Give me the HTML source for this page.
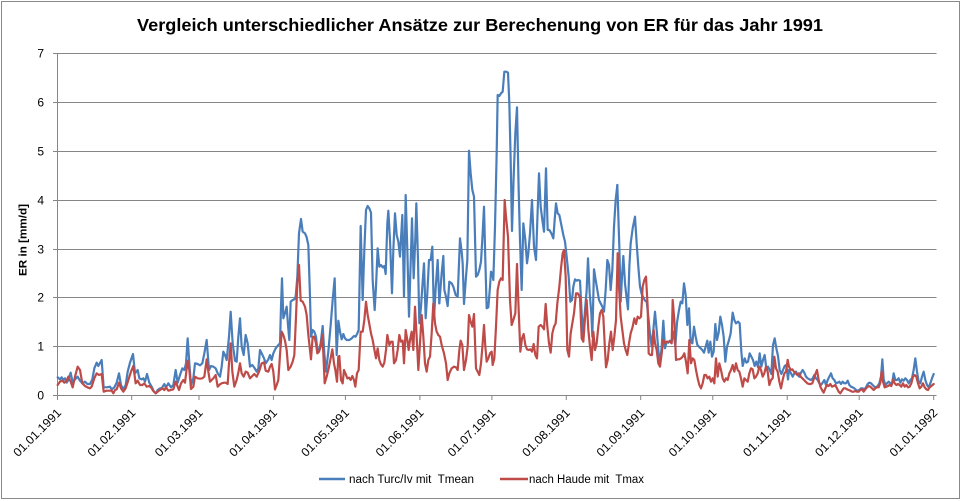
<!DOCTYPE html>
<html>
<head>
<meta charset="utf-8">
<style>
html,body{margin:0;padding:0;background:#fff;}
svg{display:block;}
text{font-family:"Liberation Sans",sans-serif;}
</style>
</head>
<body>
<svg width="963" height="501" viewBox="0 0 963 501" xmlns="http://www.w3.org/2000/svg">
<rect x="0" y="0" width="963" height="501" fill="#fff"/>
<rect x="1.5" y="1.5" width="958" height="497" fill="none" stroke="#898989" stroke-width="1"/>

<!-- Title -->
<text x="137" y="31" font-size="17.5" font-weight="bold" fill="#000" textLength="686" lengthAdjust="spacingAndGlyphs">Vergleich unterschiedlicher Ansätze zur Berechenung von ER für das Jahr 1991</text>

<!-- Gridlines -->
<g stroke="#868686" stroke-width="1">
<line x1="57.5" y1="53.5" x2="936.5" y2="53.5"/>
<line x1="57.5" y1="102.5" x2="936.5" y2="102.5"/>
<line x1="57.5" y1="151.5" x2="936.5" y2="151.5"/>
<line x1="57.5" y1="200.5" x2="936.5" y2="200.5"/>
<line x1="57.5" y1="249.5" x2="936.5" y2="249.5"/>
<line x1="57.5" y1="297.5" x2="936.5" y2="297.5"/>
<line x1="57.5" y1="346.5" x2="936.5" y2="346.5"/>
<line x1="57.5" y1="395.5" x2="936.5" y2="395.5"/>
<line x1="57.5" y1="53.5" x2="57.5" y2="395.5"/>
<!-- y ticks -->
<line x1="53" y1="53.5" x2="57.5" y2="53.5"/>
<line x1="53" y1="102.5" x2="57.5" y2="102.5"/>
<line x1="53" y1="151.5" x2="57.5" y2="151.5"/>
<line x1="53" y1="200.5" x2="57.5" y2="200.5"/>
<line x1="53" y1="249.5" x2="57.5" y2="249.5"/>
<line x1="53" y1="297.5" x2="57.5" y2="297.5"/>
<line x1="53" y1="346.5" x2="57.5" y2="346.5"/>
<line x1="53" y1="395.5" x2="57.5" y2="395.5"/>
<!-- x ticks -->
<line x1="57.5" y1="395.5" x2="57.5" y2="400"/>
<line x1="131.7" y1="395.5" x2="131.7" y2="400"/>
<line x1="199.0" y1="395.5" x2="199.0" y2="400"/>
<line x1="273.4" y1="395.5" x2="273.4" y2="400"/>
<line x1="345.4" y1="395.5" x2="345.4" y2="400"/>
<line x1="419.9" y1="395.5" x2="419.9" y2="400"/>
<line x1="491.9" y1="395.5" x2="491.9" y2="400"/>
<line x1="566.3" y1="395.5" x2="566.3" y2="400"/>
<line x1="640.7" y1="395.5" x2="640.7" y2="400"/>
<line x1="712.8" y1="395.5" x2="712.8" y2="400"/>
<line x1="787.2" y1="395.5" x2="787.2" y2="400"/>
<line x1="859.2" y1="395.5" x2="859.2" y2="400"/>
<line x1="933.7" y1="395.5" x2="933.7" y2="400"/>
</g>

<!-- Y labels -->
<g font-size="12" fill="#000" text-anchor="end">
<text x="44" y="57.5">7</text>
<text x="44" y="106.5">6</text>
<text x="44" y="155.5">5</text>
<text x="44" y="204.5">4</text>
<text x="44" y="253.5">3</text>
<text x="44" y="301.5">2</text>
<text x="44" y="350.5">1</text>
<text x="44" y="399.5">0</text>
</g>

<!-- Y title -->
<text transform="translate(26.5,240) rotate(-90)" font-size="11" font-weight="bold" text-anchor="middle" fill="#000" textLength="72" lengthAdjust="spacingAndGlyphs">ER in [mm/d]</text>

<!-- X labels -->
<g font-size="12" fill="#000" text-anchor="end">
<text transform="translate(62,413.5) rotate(-45)" textLength="62" lengthAdjust="spacingAndGlyphs">01.01.1991</text>
<text transform="translate(136.2,413.5) rotate(-45)" textLength="62" lengthAdjust="spacingAndGlyphs">01.02.1991</text>
<text transform="translate(203.5,413.5) rotate(-45)" textLength="62" lengthAdjust="spacingAndGlyphs">01.03.1991</text>
<text transform="translate(277.9,413.5) rotate(-45)" textLength="62" lengthAdjust="spacingAndGlyphs">01.04.1991</text>
<text transform="translate(349.9,413.5) rotate(-45)" textLength="62" lengthAdjust="spacingAndGlyphs">01.05.1991</text>
<text transform="translate(424.4,413.5) rotate(-45)" textLength="62" lengthAdjust="spacingAndGlyphs">01.06.1991</text>
<text transform="translate(496.4,413.5) rotate(-45)" textLength="62" lengthAdjust="spacingAndGlyphs">01.07.1991</text>
<text transform="translate(570.8,413.5) rotate(-45)" textLength="62" lengthAdjust="spacingAndGlyphs">01.08.1991</text>
<text transform="translate(645.2,413.5) rotate(-45)" textLength="62" lengthAdjust="spacingAndGlyphs">01.09.1991</text>
<text transform="translate(717.3,413.5) rotate(-45)" textLength="62" lengthAdjust="spacingAndGlyphs">01.10.1991</text>
<text transform="translate(791.7,413.5) rotate(-45)" textLength="62" lengthAdjust="spacingAndGlyphs">01.11.1991</text>
<text transform="translate(863.7,413.5) rotate(-45)" textLength="62" lengthAdjust="spacingAndGlyphs">01.12.1991</text>
<text transform="translate(938.2,413.5) rotate(-45)" textLength="62" lengthAdjust="spacingAndGlyphs">01.01.1992</text>
</g>

<!-- BLUE series -->
<g fill="none" stroke="#4A7EBB" stroke-width="6.6" stroke-linejoin="round" stroke-linecap="round">
<g transform="translate(55,190) scale(0.333333)">
<polyline points="8,562 15,568 20,562 25,570 30,565 35,578 40,570 47,548 53,578 60,568 68,560 75,572 82,580 90,575 97,582 105,582 112,568 118,535 125,518 130,528 140,510 146,592 155,592 165,590 170,598 178,592 185,578 192,550 198,585 205,598 212,585 218,545 225,518 234,492 240,550 248,540 253,565 260,568 265,565 270,575 276,552 283,578 290,590 297,605 303,610 308,600 315,595 320,595 328,582 333,592 340,580 348,592 355,585 362,540 368,578 375,555 382,535 388,540 393,520 398,445 403,520 408,585 415,565 420,520 428,522 435,526 442,520 448,490 455,450 462,540 468,528 475,530 482,535 488,550 495,560 500,530 505,485 510,495 515,510 522,440 527,365 533,460 540,512 545,515 550,440 555,385 560,470 566,495 572,435 578,460 585,530 592,525 598,533 605,545 610,535 615,480 620,490 627,505 632,520 640,508 645,495 650,510 655,490 662,475"/>
</g>
<g transform="translate(260,150) scale(0.333333)">
<polyline points="47,595 55,585 60,580 63,470 66,385 70,505 75,490 80,470 84,525 88,570 92,455 98,450 103,448 107,440 112,380 117,250 123,207 128,245 135,250 140,262 145,285 150,440 153,560 158,540 163,545 168,560 172,600 177,600 182,580 188,528 193,610 198,665 205,605 212,525 218,450 224,385 230,615 235,512 240,545 245,568 250,552 255,565 260,570 268,570 275,565 282,558 287,560 292,550 296,540 302,228 308,450 313,300 318,180 323,168 328,175 333,188 338,390 344,480 348,410 353,295 358,350 363,345 368,352 373,348 377,372 382,220 385,182 390,270 396,430 400,300 405,190 410,255 415,275 420,320 427,195 432,440 437,135 442,300 447,500 452,340 456,205 461,385 466,265 469,160 474,330 478,520 483,470 488,395 492,340 497,505 502,430 507,330 512,330 517,290 522,505 527,415 533,330 538,460"/>
</g>
<g transform="translate(440,60) scale(0.333333)">
<polyline points="-2,730 5,640 10,588 13,690 18,710 23,738 28,665 35,670 40,680 47,705 53,710 60,535 65,575 68,610 72,732 78,650 82,600 87,272 92,340 97,390 102,410 108,650 113,645 118,630 123,605 128,520 132,440 136,600 140,745 145,742 150,680 153,635 157,640 160,660 165,500 170,280 173,105 178,108 183,100 188,95 193,35 199,35 204,38 208,130 212,300 216,513 221,350 226,220 231,142 236,390 240,540 245,690 250,490 256,540 261,610 265,580 270,520 276,420 282,560 288,600 292,480 297,340 302,440 307,480 312,515 318,325 323,510 328,510 334,520 340,535 344,480 348,430 353,460 358,465 363,490 370,525 375,545 380,590 386,650 391,725 396,720 400,680 405,658 410,662 415,660 420,662 425,760 430,820 435,750 440,690 444,595 449,700 454,760 457,830 462,628 467,660 472,690 477,720 482,730 487,740 492,755 497,690 502,600 507,615 512,690 517,630 522,500 527,420 532,375"/>
</g>
<g transform="translate(610,170) scale(0.333333)">
<polyline points="22,45 28,230 32,395 36,320 40,258 45,340 50,385 54,418 58,290 62,220 68,175 75,140 80,220 85,290 90,350 95,372 100,382 105,392 110,395 115,440 120,490 125,530 130,480 135,425 140,480 145,540 150,585 155,530 160,452 165,535 170,515 175,518 180,512 185,515 190,485 196,528 201,458 207,420 212,395 217,400 222,340 227,375 232,465 237,415 242,515 247,520 252,470 257,500 262,525 267,530 272,535 277,540 282,548 287,530 292,512 296,548 301,515 306,560 311,545 316,462 321,510 326,488 331,440 336,465 341,500 346,575 351,530 357,510 362,490 368,428 373,450 378,460 384,455 389,460 394,545 398,588 404,565 409,578 414,575 419,550 424,560 429,570 434,588 439,575 444,592 449,550 454,590 459,570 464,555 469,595 474,590 479,600 484,612 489,525 494,505 499,535 504,558 509,600 514,612 519,600 524,588 529,585 534,628"/>
</g>
<g transform="translate(640,330) scale(0.333333)">
<polyline points="444,148 447,120 452,128 458,140 463,130 468,125 473,135 478,140 483,128 488,120 493,128 498,140 503,145 508,148 513,150 518,145 523,135 528,145 533,150 538,160 543,165 548,158 553,150 558,165 563,150 568,140 573,130 578,145 583,150 588,160 593,158 598,155 603,162 608,155 613,160 618,160 623,152 628,165 633,170 638,172 643,175 648,180 653,182 658,180 663,175 668,175 673,178 678,172 683,162 688,158 693,160 698,165 703,170 708,172 713,168 718,160 723,140 727,88 731,148 736,165 741,160 746,155 751,160 756,162 761,130 766,150 771,150 776,145 781,158 786,148 791,152 796,145 801,150 806,160 811,150 816,145 821,120 826,85 831,125 836,155 841,160 846,140 851,125 856,150 861,165 866,172 871,160 876,145 881,132"/>
</g>
</g>

<!-- RED series -->
<g fill="none" stroke="#BE4B48" stroke-width="6.6" stroke-linejoin="round" stroke-linecap="round">
<g transform="translate(55,190) scale(0.333333)">
<polyline points="8,585 15,575 22,572 28,578 35,572 40,560 47,575 53,592 60,560 68,530 75,540 82,580 90,588 97,592 105,595 110,590 118,565 125,550 132,555 140,552 146,605 155,602 165,602 170,602 175,610 180,600 185,598 192,578 198,595 205,605 212,595 220,570 228,545 235,528 242,580 248,572 255,585 262,585 268,580 275,590 282,588 288,592 295,603 302,610 308,605 315,600 322,595 328,600 333,592 340,602 348,600 355,598 362,575 368,590 372,600 378,580 385,570 390,578 398,512 403,540 408,597 415,590 420,560 428,565 435,566 442,565 448,560 455,508 460,545 465,575 470,570 475,565 482,555 488,590 495,583 500,580 507,578 512,578 518,582 522,520 527,460 532,545 538,590 545,570 550,548 555,520 560,550 566,560 572,545 578,548 585,565 592,558 598,552 605,560 612,545 620,520 627,517 632,542 640,545 645,530 650,522 655,545 660,598"/>
</g>
<g transform="translate(260,150) scale(0.333333)">
<polyline points="45,718 50,705 55,690 60,615 65,545 70,555 75,572 80,600 85,660 92,650 98,635 103,615 108,500 112,400 117,345 122,452 128,455 135,470 140,495 145,555 150,600 153,628 158,560 163,560 168,580 172,610 177,605 182,590 187,555 190,610 194,700 200,680 206,655 212,625 217,598 222,640 226,660 231,695 235,620 238,618 243,690 248,700 252,660 257,672 262,685 267,683 272,690 277,678 282,690 286,710 291,670 296,660 302,545 308,545 313,510 318,455 323,495 328,522 333,550 338,570 343,598 348,625 353,595 358,630 363,643 368,650 373,638 378,600 382,555 388,585 393,575 398,575 402,640 408,630 413,600 418,555 423,575 428,572 432,640 437,540 442,570 446,600 450,570 455,545 460,600 465,470 470,560 475,660 480,580 485,495 490,560 495,640 500,665 505,630 510,620 515,550 520,460 525,520 530,545 535,555"/>
</g>
<g transform="translate(440,60) scale(0.333333)">
<polyline points="-5,825 0,830 5,855 12,880 18,910 23,960 28,940 35,925 42,920 48,922 53,930 58,870 62,842 67,855 72,930 78,900 83,860 87,765 92,785 97,800 102,762 108,925 113,935 118,945 123,910 128,850 132,795 136,860 140,905 145,895 150,880 155,875 158,915 163,895 168,800 173,690 178,665 183,655 188,660 194,420 198,470 204,530 210,720 215,795 220,780 226,760 231,612 236,750 241,875 246,835 251,822 256,855 261,868 266,870 271,868 276,875 281,852 286,885 291,895 296,800 302,795 307,800 312,808 317,732 322,800 327,850 332,878 337,820 342,800 347,790 352,730 358,680 363,625 368,580 372,570 377,650 382,870 387,890 392,820 397,790 402,760 408,700 413,700 420,712 425,835 430,845 436,760 440,720 445,810 450,860 455,900 460,815 465,870 470,850 475,800 480,760 485,750 490,770 495,870 498,922 503,900 508,850 513,815 518,870 523,830 528,780 533,580"/>
</g>
<g transform="translate(610,170) scale(0.333333)">
<polyline points="23,250 27,350 32,440 37,480 42,520 47,540 52,555 57,520 62,490 68,470 73,445 78,462 83,440 88,445 93,440 98,350 103,330 108,320 113,410 116,550 121,555 126,555 131,480 135,520 140,540 145,580 150,590 155,550 160,510 165,520 170,515 175,515 180,515 185,520 188,390 193,450 198,570 203,568 208,568 213,565 218,560 223,550 228,575 233,610 238,510 243,580 248,565 253,570 258,600 263,625 268,645 273,655 278,640 283,615 288,615 293,625 298,620 303,635 308,625 313,640 318,565 323,620 328,580 333,600 338,625 343,635 348,625 353,630 358,610 363,600 368,585 373,605 378,580 383,600 388,605 393,625 398,650 403,625 408,630 413,635 418,610 423,595 428,598 433,625 438,620 443,610 448,590 453,600 458,620 463,610 468,590 473,605 478,645 483,630 488,625 493,560 498,595 503,605 508,635 513,655 518,630 523,610 528,605 533,570"/>
</g>
<g transform="translate(640,330) scale(0.333333)">
<polyline points="443,90 447,110 452,120 457,118 462,125 467,130 472,135 477,130 482,140 487,145 492,150 497,155 502,160 507,162 512,162 517,160 522,145 527,130 531,120 536,150 541,170 546,180 551,188 556,175 561,165 566,168 571,162 576,170 581,168 586,165 591,175 596,185 601,190 606,182 611,175 616,175 621,178 626,180 631,182 636,185 641,185 646,183 651,185 656,185 661,180 666,178 671,185 676,178 681,172 686,168 691,170 696,175 701,180 706,175 711,172 716,172 721,158 725,125 729,155 734,172 739,170 744,168 749,165 754,168 759,148 764,160 769,165 774,162 779,165 784,170 789,160 794,170 799,165 804,172 809,170 814,160 819,140 824,135 829,140 834,160 839,175 844,170 849,160 854,172 859,178 864,180 869,172 874,168 881,162"/>
</g>
</g>

<!-- Legend -->
<line x1="319" y1="479" x2="345" y2="479" stroke="#4A7EBB" stroke-width="2.5"/>
<text x="349" y="483" font-size="11.5" fill="#000" textLength="125" lengthAdjust="spacingAndGlyphs" xml:space="preserve">nach Turc/Iv mit  Tmean</text>
<line x1="500" y1="479" x2="528" y2="479" stroke="#BE4B48" stroke-width="2.5"/>
<text x="529" y="483" font-size="11.5" fill="#000" textLength="115" lengthAdjust="spacingAndGlyphs" xml:space="preserve">nach Haude mit  Tmax</text>
</svg>
</body>
</html>
